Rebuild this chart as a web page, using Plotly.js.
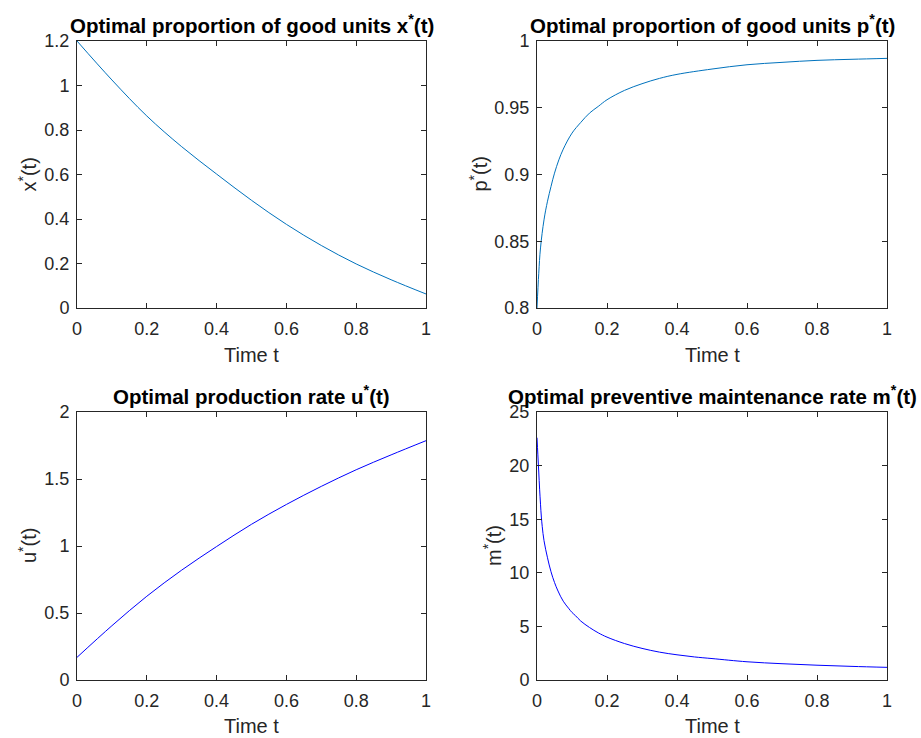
<!DOCTYPE html>
<html>
<head>
<meta charset="utf-8">
<script src="https://cdn.plot.ly/plotly-3.0.1.min.js"></script>
<style>html,body{margin:0;padding:0;background:#fff;}#chart{width:921px;height:738px;}</style>
</head>
<body>
<div id="chart"></div>
<script>
// ---- data ----
const tX = [0, 0.1, 0.2, 0.3, 0.4, 0.5, 0.6, 0.7, 0.8, 0.9, 1.0];
const xStar = [1.2, 1.025, 0.863, 0.725, 0.602, 0.484, 0.376, 0.281, 0.198, 0.127, 0.063];

const tP = [0, 0.005, 0.01, 0.02, 0.03, 0.04, 0.05, 0.0625, 0.075, 0.1, 0.125, 0.15, 0.175, 0.2, 0.25, 0.3, 0.35, 0.4, 0.5, 0.6, 0.7, 0.8, 0.9, 1.0];
const pStar = [0.8, 0.826, 0.845, 0.866, 0.880, 0.891, 0.901, 0.911, 0.919, 0.931, 0.939, 0.946, 0.951, 0.956, 0.963, 0.968, 0.972, 0.975, 0.979, 0.9822, 0.984, 0.9855, 0.9863, 0.987];

const tU = [0, 0.1, 0.2, 0.3, 0.4, 0.5, 0.6, 0.7, 0.8, 0.9, 1.0];
const uStar = [0.169, 0.405, 0.625, 0.82, 0.996, 1.162, 1.31, 1.445, 1.569, 1.68, 1.786];

const tM = [0, 0.0025, 0.005, 0.0075, 0.01, 0.0125, 0.015, 0.02, 0.03, 0.04, 0.05, 0.06, 0.075, 0.09, 0.1, 0.11, 0.125, 0.15, 0.175, 0.2, 0.25, 0.3, 0.35, 0.4, 0.45, 0.5, 0.6, 0.7, 0.8, 0.9, 1.0];
const mStar = [22.6, 21.0, 19.4, 17.8, 16.4, 15.2, 14.3, 13.0, 11.4, 10.1, 9.1, 8.3, 7.35, 6.7, 6.3, 6.0, 5.5, 4.9, 4.4, 4.0, 3.4, 2.95, 2.6, 2.35, 2.15, 2.0, 1.7, 1.52, 1.38, 1.27, 1.18];

const titles = [
  'Optimal proportion of good units x<sup>*</sup>(t)',
  'Optimal proportion of good units p<sup>*</sup>(t)',
  'Optimal production rate u<sup>*</sup>(t)',
  'Optimal preventive maintenance rate m<sup>*</sup>(t)'
];
const yLabels = ['x<sup>*</sup>(t)', 'p<sup>*</sup>(t)', 'u<sup>*</sup>(t)', 'm<sup>*</sup>(t)'];
const xLabel = 'Time t';

// ---- layout geometry (pixels) ----
const W = 921, H = 738;
const colPx = [[77, 426], [537, 887]];
const rowPx = [[41, 308], [412, 680]];
const px2x = p => p / W;
const px2y = p => 1 - p / H;

const traces = [
  {x: tX, y: xStar, xaxis: 'x', yaxis: 'y', line: {color: '#0072BD', width: 1, shape: 'spline', smoothing: 1}},
  {x: tP, y: pStar, xaxis: 'x2', yaxis: 'y2', line: {color: '#0072BD', width: 1, shape: 'spline', smoothing: 1}},
  {x: tU, y: uStar, xaxis: 'x3', yaxis: 'y3', line: {color: '#0000FF', width: 1, shape: 'spline', smoothing: 1}},
  {x: tM, y: mStar, xaxis: 'x4', yaxis: 'y4', line: {color: '#0000FF', width: 1, shape: 'spline', smoothing: 1}}
].map(t => Object.assign({type: 'scatter', mode: 'lines', showlegend: false, hoverinfo: 'x+y'}, t));

const axColor = '#262626';
const fontFam = 'Liberation Sans, Arial, sans-serif';
const tickFont = {family: fontFam, size: 18, color: axColor};
function common() {
  return {
    showgrid: false, zeroline: false, showline: true, linecolor: axColor, linewidth: 1,
    mirror: 'ticks', ticks: 'inside', ticklen: 5, tickcolor: axColor, tickwidth: 1,
    tickfont: tickFont, automargin: false, fixedrange: true
  };
}
function xa(col, row, anchor) {
  return Object.assign(common(), {
    domain: [px2x(colPx[col][0]), px2x(colPx[col][1])],
    anchor: anchor, range: [0, 1], dtick: 0.2, tick0: 0, ticklabelstandoff: 4
  });
}
function ya(col, row, anchor, range, dtick) {
  return Object.assign(common(), {
    domain: [px2y(rowPx[row][1]), px2y(rowPx[row][0])],
    anchor: anchor, range: range, dtick: dtick, tick0: range[0], ticklabelstandoff: 3
  });
}

const annotations = [];
const titleY = [24, 395];
const xLabY = [355, 726];
const yLabX = [[27, 478], [27, 492]];
for (let r = 0; r < 2; r++) {
  for (let c = 0; c < 2; c++) {
    const i = r * 2 + c;
    const cx = (colPx[c][0] + colPx[c][1]) / 2;
    const cy = (rowPx[r][0] + rowPx[r][1]) / 2;
    annotations.push({text: '<b>' + titles[i] + '</b>', xref: 'paper', yref: 'paper',
      x: px2x(cx), y: px2y(titleY[r]), xanchor: 'center', yanchor: 'middle', showarrow: false,
      font: {family: fontFam, size: 20.5, color: '#000'}});
    annotations.push({text: xLabel, xref: 'paper', yref: 'paper',
      x: px2x(cx), y: px2y(xLabY[r]), xanchor: 'center', yanchor: 'middle', showarrow: false,
      font: {family: fontFam, size: 20, color: axColor}});
    annotations.push({text: yLabels[i], xref: 'paper', yref: 'paper', textangle: -90,
      x: px2x(yLabX[r][c]), y: px2y(cy), xanchor: 'center', yanchor: 'middle', showarrow: false,
      font: {family: fontFam, size: 20, color: axColor}});
  }
}

const layout = {
  width: W, height: H,
  margin: {l: 0, r: 0, t: 0, b: 0},
  paper_bgcolor: '#fff', plot_bgcolor: '#fff',
  showlegend: false,
  xaxis: xa(0, 0, 'y'), yaxis: ya(0, 0, 'x', [0, 1.2], 0.2),
  xaxis2: xa(1, 0, 'y2'), yaxis2: ya(1, 0, 'x2', [0.8, 1], 0.05),
  xaxis3: xa(0, 1, 'y3'), yaxis3: ya(0, 1, 'x3', [0, 2], 0.5),
  xaxis4: xa(1, 1, 'y4'), yaxis4: ya(1, 1, 'x4', [0, 25], 5),
  annotations: annotations
};

Plotly.newPlot('chart', traces, layout, {displayModeBar: false});
</script>
</body>
</html>
